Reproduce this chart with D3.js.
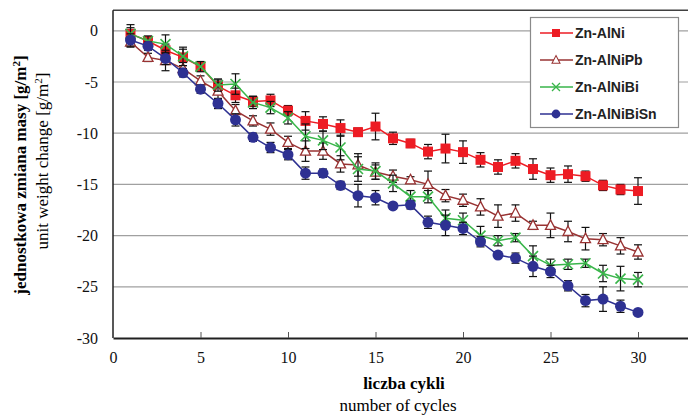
<!DOCTYPE html>
<html>
<head>
<meta charset="utf-8">
<script src="https://cdn.jsdelivr.net/npm/d3@7"></script>
<style>
  body { margin: 0; background: #fff; }
  svg { display: block; }
</style>
</head>
<body>
<div id="chart"></div>
<script>
// cycles 1..30
var cycles = d3.range(1, 31);

var seriesNames = ["Zn-AlNi", "Zn-AlNiPb", "Zn-AlNiBi", "Zn-AlNiBiSn"];

var alNi = [-0.3, -1.0, -1.9, -2.6, -3.5, -5.4, -6.3, -6.9, -6.8, -7.8,
            -8.8, -9.1, -9.5, -9.9, -9.35, -10.5, -11.0, -11.8, -11.5, -11.85,
            -12.6, -13.3, -12.7, -13.5, -14.1, -14.0, -14.2, -15.1, -15.5, -15.65];
var alNiErr = [0.9, 0.4, 0.6, 0.8, 0.4, 0.6, 0.7, 0.5, 0.6, 0.5,
               0.9, 0.7, 0.8, 0.4, 1.3, 0.6, 0.4, 0.7, 1.4, 1.1,
               0.7, 0.7, 0.7, 1.0, 0.7, 0.8, 0.5, 0.5, 0.5, 1.3];

var alNiPb = [-1.1, -2.6, -2.9, -3.7, -4.9, -5.9, -7.8, -8.8, -9.6, -10.9,
              -11.75, -11.75, -13.0, -13.1, -13.8, -14.2, -14.55, -15.0, -16.1, -16.55,
              -17.2, -18.1, -17.8, -19.0, -19.0, -19.6, -20.3, -20.4, -21.0, -21.6];
var alNiPbErr = [0.5, 0.4, 1.0, 0.6, 0.5, 0.8, 0.6, 0.5, 0.6, 0.6,
                 1.0, 0.8, 0.8, 1.1, 0.7, 0.6, 0.3, 1.3, 0.6, 0.6,
                 0.8, 1.1, 0.8, 0.4, 1.2, 1.0, 1.1, 0.6, 0.8, 0.7];

var alNiBi = [-0.3, -1.0, -1.3, -2.5, -3.5, -5.3, -5.2, -7.0, -7.5, -8.5,
              -10.3, -10.7, -11.4, -13.5, -13.7, -14.9, -16.2, -16.2, -18.3, -18.5,
              -20.0, -20.5, -20.2, -22.0, -22.9, -22.8, -22.7, -23.7, -24.2, -24.3];
var alNiBiErr = [0.6, 0.5, 0.9, 0.9, 0.5, 0.6, 1.0, 0.6, 0.6, 0.6,
                 1.2, 0.9, 1.2, 1.2, 0.8, 0.8, 0.6, 0.6, 0.8, 0.7,
                 0.9, 0.5, 0.4, 1.0, 0.6, 0.5, 0.4, 0.8, 1.2, 0.7];

var alNiBiSn = [-0.9, -1.5, -2.7, -4.1, -5.7, -7.1, -8.7, -10.4, -11.4, -12.1,
                -13.9, -13.9, -15.1, -16.1, -16.3, -17.1, -17.0, -18.7, -19.0, -19.3,
                -20.6, -21.9, -22.2, -23.0, -23.5, -24.9, -26.35, -26.2, -26.9, -27.5];
var alNiBiSnErr = [0.6, 0.4, 0.6, 0.4, 0.4, 0.5, 0.6, 0.4, 0.5, 0.5,
                   0.6, 0.4, 0.4, 1.1, 0.7, 0.3, 0.4, 0.6, 1.0, 0.6,
                   0.5, 0.3, 0.5, 1.0, 0.6, 0.5, 0.6, 1.2, 0.6, 0.2];

var xTicks = [0, 5, 10, 15, 20, 25, 30];
var yTicks = [0, -5, -10, -15, -20, -25, -30];

var colors = ["#ed1c24", "#993333", "#39b54a", "#2e3192"];
var markers = ["square", "triangle", "x", "circle"];
var values = [alNi, alNiPb, alNiBi, alNiBiSn];
var errors = [alNiErr, alNiPbErr, alNiBiErr, alNiBiSnErr];

var SERIF = "'Liberation Serif', 'Times New Roman', 'DejaVu Serif', serif";

var W = 688, H = 416;
var svg = d3.select("#chart").append("svg")
    .attr("width", W)
    .attr("height", H);

var x = d3.scaleLinear().domain([0, 33]).range([113, 690.5]);
var y = d3.scaleLinear().domain([-30, 2]).range([338, 10.3]);

// grid lines
svg.selectAll(".grid")
    .data(yTicks.filter(function(d) { return d > -30; }))
    .enter().append("line")
    .attr("x1", x(0)).attr("x2", W)
    .attr("y1", function(d) { return y(d); })
    .attr("y2", function(d) { return y(d); })
    .attr("stroke", "#a0a0a0")
    .attr("stroke-width", 1.2);

// frame: top line, left axis
svg.append("line")
    .attr("x1", x(0)).attr("x2", W)
    .attr("y1", y(2)).attr("y2", y(2))
    .attr("stroke", "#404040").attr("stroke-width", 1.5);
svg.append("line")
    .attr("x1", x(0)).attr("x2", x(0))
    .attr("y1", y(2)).attr("y2", y(-30))
    .attr("stroke", "#202020").attr("stroke-width", 1.5);

// plain hyphen minus, as in the original
var fmt = function(d) { return String(d); };

var xAxis = d3.axisBottom(x)
    .tickValues(xTicks)
    .tickSize(-6)
    .tickSizeOuter(0)
    .tickPadding(14)
    .tickFormat(fmt);
var gx = svg.append("g")
    .attr("transform", "translate(0," + y(-30) + ")")
    .call(xAxis)
    .attr("font-family", SERIF)
    .attr("font-size", 16);
gx.select(".domain").attr("stroke", "#202020").attr("stroke-width", 1.8);
gx.selectAll(".tick line").attr("stroke", "#555");
gx.selectAll(".tick text")
    .style("font-family", SERIF)
    .style("font-size", "16px")
    .attr("fill", "#111");

var yAxis = d3.axisLeft(y)
    .tickValues(yTicks)
    .tickSize(0)
    .tickPadding(15)
    .tickFormat(fmt);
var gy = svg.append("g")
    .attr("transform", "translate(" + x(0) + ",0)")
    .call(yAxis)
    .attr("font-family", SERIF)
    .attr("font-size", 16);
gy.select(".domain").remove();
gy.selectAll(".tick text")
    .style("font-family", SERIF)
    .style("font-size", "16px")
    .attr("fill", "#111");

// axis titles
svg.append("text")
    .attr("x", 404).attr("y", 389)
    .attr("text-anchor", "middle")
    .style("font-family", SERIF)
    .style("font-weight", "bold")
    .style("font-size", "17px")
    .text("liczba cykli");
svg.append("text")
    .attr("x", 398).attr("y", 411)
    .attr("text-anchor", "middle")
    .style("font-family", SERIF)
    .style("font-size", "17px")
    .text("number of cycles");

var yt1 = svg.append("text")
    .attr("transform", "translate(26,175) rotate(-90)")
    .attr("text-anchor", "middle")
    .style("font-family", SERIF)
    .style("font-weight", "bold")
    .style("font-size", "17px");
yt1.append("tspan").text("jednostkowa zmiana masy [g/m");
yt1.append("tspan").attr("dy", -6).style("font-size", "11px").text("2");
yt1.append("tspan").attr("dy", 6).text("]");

var yt2 = svg.append("text")
    .attr("transform", "translate(48,161) rotate(-90)")
    .attr("text-anchor", "middle")
    .style("font-family", SERIF)
    .style("font-size", "17px");
yt2.append("tspan").text("unit weight change [g/m");
yt2.append("tspan").attr("dy", -6).style("font-size", "11px").text("2");
yt2.append("tspan").attr("dy", 6).text("]");

function drawMarker(g, type, color) {
    if (type == "square") {
        g.append("rect").attr("x", -5).attr("y", -5).attr("width", 10).attr("height", 10)
            .attr("fill", color);
    } else if (type == "triangle") {
        g.append("path").attr("d", "M0,-5.5L5,4L-5,4Z")
            .attr("fill", "#fff").attr("stroke", color).attr("stroke-width", 1.3);
    } else if (type == "x") {
        g.append("path").attr("d", "M-5,-5L5,5M-5,5L5,-5")
            .attr("stroke", color).attr("stroke-width", 1.6);
    } else {
        g.append("circle").attr("r", 5.5).attr("fill", color);
    }
}

var line = d3.line()
    .x(function(d) { return x(d.c); })
    .y(function(d) { return y(d.v); });

values.forEach(function(vals, s) {
    var pts = cycles.map(function(c, i) { return { c: c, v: vals[i], e: errors[s][i] }; });
    var g = svg.append("g");

    g.append("path")
        .datum(pts)
        .attr("d", line)
        .attr("fill", "none")
        .attr("stroke", colors[s])
        .attr("stroke-width", 1.5);

    var eb = g.selectAll(".err")
        .data(pts)
        .enter().append("g");
    eb.append("line")
        .attr("x1", function(d) { return x(d.c); })
        .attr("x2", function(d) { return x(d.c); })
        .attr("y1", function(d) { return y(d.v + d.e); })
        .attr("y2", function(d) { return y(d.v - d.e); })
        .attr("stroke", "#111").attr("stroke-width", 1.2);
    [1, -1].forEach(function(sign) {
        eb.append("line")
            .attr("x1", function(d) { return x(d.c) - 4; })
            .attr("x2", function(d) { return x(d.c) + 4; })
            .attr("y1", function(d) { return y(d.v + sign * d.e); })
            .attr("y2", function(d) { return y(d.v + sign * d.e); })
            .attr("stroke", "#111").attr("stroke-width", 1.2);
    });

    g.selectAll(".mk")
        .data(pts)
        .enter().append("g")
        .attr("transform", function(d) { return "translate(" + x(d.c) + "," + y(d.v) + ")"; })
        .each(function() { drawMarker(d3.select(this), markers[s], colors[s]); });
});

// legend
var lg = svg.append("g");
lg.append("rect")
    .attr("x", 530.5).attr("y", 17.5)
    .attr("width", 148).attr("height", 110)
    .attr("fill", "#fff")
    .attr("stroke", "#8a8a8a").attr("stroke-width", 1.2);
seriesNames.forEach(function(name, i) {
    var ly = 33 + i * 27;
    lg.append("line")
        .attr("x1", 540).attr("x2", 573)
        .attr("y1", ly).attr("y2", ly)
        .attr("stroke", colors[i]).attr("stroke-width", 1.5);
    var mg = lg.append("g").attr("transform", "translate(556," + ly + ") scale(0.8)");
    drawMarker(mg, markers[i], colors[i]);
    lg.append("text")
        .attr("x", 575).attr("y", ly + 5)
        .style("font-family", "'Liberation Sans', Arial, sans-serif")
        .style("font-weight", "bold")
        .style("font-size", "14px")
        .attr("fill", "#222")
        .text(name);
});
</script>
</body>
</html>
